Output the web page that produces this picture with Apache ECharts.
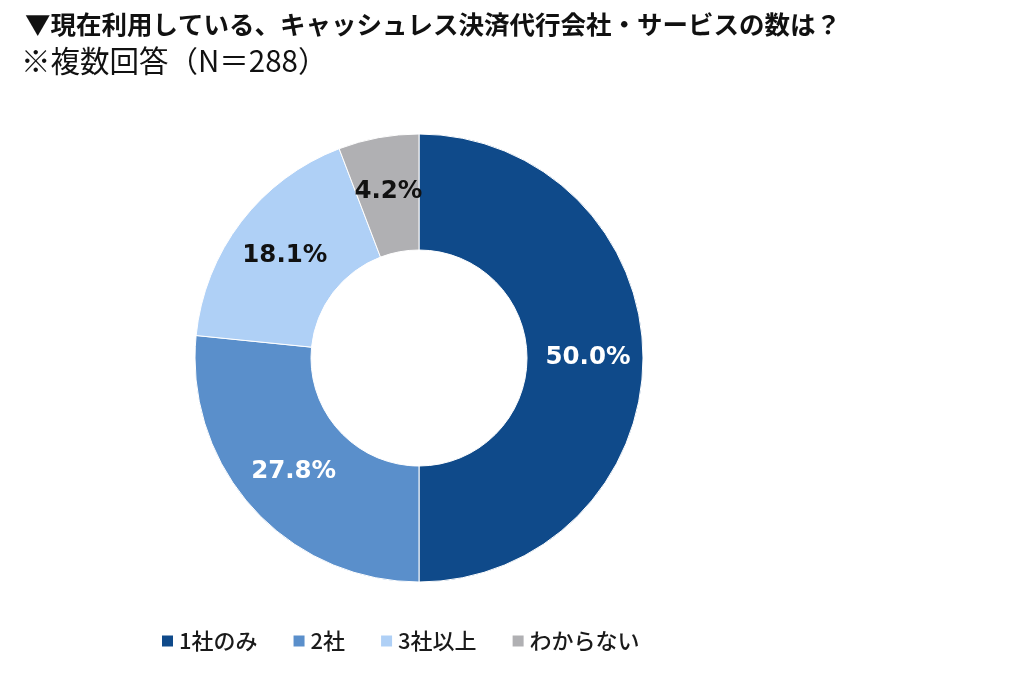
<!DOCTYPE html>
<html>
<head>
<meta charset="utf-8">
<script src="https://cdn.jsdelivr.net/npm/echarts@6/dist/echarts.min.js"></script>
<style>
  html, body { margin: 0; padding: 0; background: #fff; }
  #chart { width: 1018px; height: 686px; }
</style>
</head>
<body>
<div id="chart"></div>
<script>
const categories = ['1社のみ', '2社', '3社以上', 'わからない']
// slice sizes as drawn in the picture (the drawn arcs are not quite the printed numbers)
const shares = [50.0, 26.6, 17.6, 5.8]
// the percentages printed on the slices
const labels = ['50.0%', '27.8%', '18.1%', '4.2%']
const colors = ['#0f4a8a', '#5a8fcb', '#afd0f6', '#b0b0b3']
const labelColors = ['#fff', '#fff', '#111', '#111']

const font = '"Noto Sans CJK JP", "Noto Sans", sans-serif'
const numFont = '"DejaVu Sans", "Noto Sans", sans-serif'

const chart = echarts.init(document.getElementById('chart'))

chart.setOption({
  backgroundColor: '#fff',
  title: [
    {
      text: '▼現在利用している、キャッシュレス決済代行会社・サービスの数は？',
      left: 20,
      top: 7,
      textStyle: { fontFamily: font, fontSize: 25.5, fontWeight: 'bold', color: '#111' },
    },
    {
      text: '※複数回答（N＝288）',
      left: 16,
      top: 41,
      textStyle: { fontFamily: font, fontSize: 29.5, fontWeight: 'normal', color: '#111' },
    },
  ],
  legend: {
    bottom: 29,
    left: 155,
    itemWidth: 13,
    itemHeight: 13,
    itemGap: 34,
    icon: 'rect',
    textStyle: { fontFamily: font, fontSize: 22, fontWeight: 500, color: '#1a1a1a' },
    data: categories,
  },
  series: [
    {
      type: 'pie',
      center: [419, 358],
      radius: [108, 224],
      startAngle: 90,
      clockwise: true,
      itemStyle: { borderColor: '#fff', borderWidth: 1 },
      label: {
        show: true,
        position: 'inside',
        fontFamily: numFont,
        fontSize: 24.5,
        fontWeight: 'bold',
        formatter: p => labels[p.dataIndex],
      },
      labelLine: { show: false },
      emphasis: { disabled: true },
      data: categories.map((name, i) => ({
        name,
        value: shares[i],
        itemStyle: { color: colors[i] },
        label: { color: labelColors[i] },
      })),
    },
  ],
})
</script>
</body>
</html>
